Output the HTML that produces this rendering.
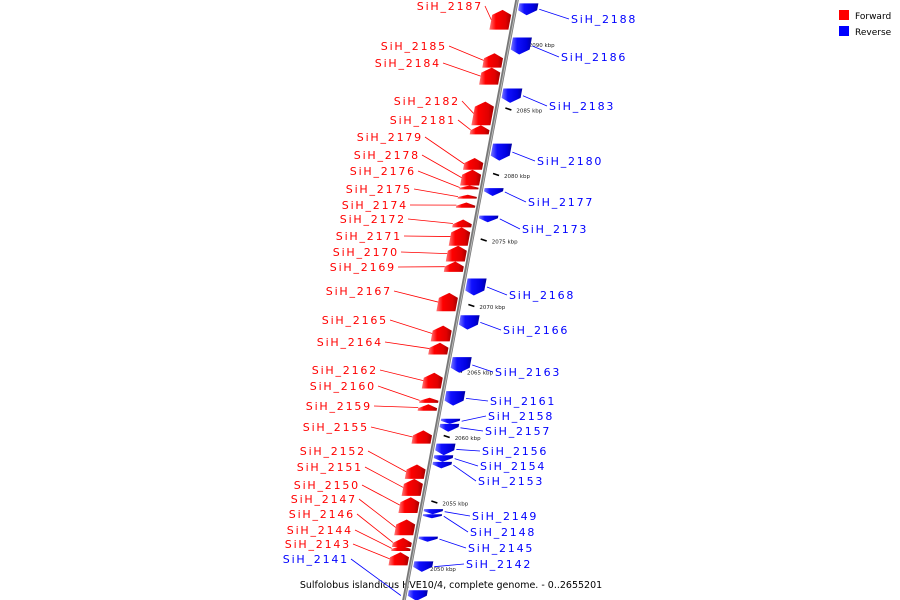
<!DOCTYPE html>
<html><head><meta charset="utf-8"><style>
html,body{margin:0;padding:0;background:#fff;width:900px;height:600px;overflow:hidden}
svg text{font-family:"DejaVu Sans","Liberation Sans",sans-serif}
</style></head><body>
<svg id="chart" width="900" height="600" viewBox="0 0 900 600" xmlns="http://www.w3.org/2000/svg">
<defs>
<linearGradient id="gr" x1="0" x2="1"><stop offset="0" stop-color="#ff7a7a"/><stop offset="0.3" stop-color="#ff0000"/><stop offset="0.75" stop-color="#e00000"/><stop offset="1" stop-color="#a00000"/></linearGradient>
<linearGradient id="gb" x1="0" x2="1"><stop offset="0" stop-color="#7a7aff"/><stop offset="0.3" stop-color="#1010ff"/><stop offset="0.75" stop-color="#0000e0"/><stop offset="1" stop-color="#0000a0"/></linearGradient>
</defs>
<g id="legend">
<rect x="839" y="10" width="10" height="10" fill="#f00"/>
<text x="855" y="19" font-size="9">Forward</text>
<rect x="839" y="26" width="10" height="10" fill="#00f"/>
<text x="855" y="35" font-size="9">Reverse</text>
</g>
<text x="451" y="588" font-size="9.5" text-anchor="middle">Sulfolobus islandicus HVE10/4, complete genome. - 0..2655201</text>
</svg>
<script>
const geneNames = ["SiH_2187","SiH_2185","SiH_2184","SiH_2182","SiH_2181","SiH_2179","SiH_2178","SiH_2176","SiH_2175","SiH_2174","SiH_2172","SiH_2171","SiH_2170","SiH_2169","SiH_2167","SiH_2165","SiH_2164","SiH_2162","SiH_2160","SiH_2159","SiH_2155","SiH_2152","SiH_2151","SiH_2150","SiH_2147","SiH_2146","SiH_2144","SiH_2143",
"SiH_2188","SiH_2186","SiH_2183","SiH_2180","SiH_2177","SiH_2173","SiH_2168","SiH_2166","SiH_2163","SiH_2161","SiH_2158","SiH_2157","SiH_2156","SiH_2154","SiH_2153","SiH_2149","SiH_2148","SiH_2145","SiH_2142","SiH_2141"];
const geneStrand = [1,1,1,1,1,1,1,1,1,1,1,1,1,1,1,1,1,1,1,1,1,1,1,1,1,1,1,1,
-1,-1,-1,-1,-1,-1,-1,-1,-1,-1,-1,-1,-1,-1,-1,-1,-1,-1,-1,-1];
const geneStartKbp = [2092.6,2089.3,2088.2,2085.6,2083.8,2081.3,2080.4,2079.2,2078.5,2077.9,2076.6,2076.0,2074.6,2073.4,2071.0,2068.5,2067.2,2064.9,2063.0,2062.5,2060.5,2057.9,2056.8,2055.4,2053.7,2052.3,2051.7,2051.2,
2093.1,2090.5,2086.6,2082.4,2079.0,2076.9,2072.1,2069.3,2066.1,2063.5,2061.4,2061.0,2059.5,2058.6,2058.1,2054.5,2054.1,2052.4,2050.5,2048.3];
const geneEndKbp = [2091.1,2088.2,2086.9,2083.8,2083.1,2080.4,2079.2,2078.9,2078.2,2077.5,2076.0,2074.6,2073.4,2072.6,2069.6,2067.3,2066.3,2063.7,2062.6,2062.0,2059.5,2056.8,2055.5,2054.2,2052.5,2051.6,2051.3,2050.2,
2092.2,2089.2,2085.5,2081.1,2078.4,2076.4,2070.8,2068.2,2064.9,2062.4,2061.0,2060.4,2058.6,2058.1,2057.6,2054.1,2053.8,2052.0,2049.7,2047.5];
const labelRow = [6,46,63,101,120,137,155,171,189,205,219,236,252,267,291,320,342,370,386,406,427,451,467,485,499,514,530,544,
19,57,106,161,202,229,295,330,372,401,416,431,451,466,481,516,532,548,564,559];
const labelEdge = [483,447,441,460,456,423,420,416,412,408,406,402,399,396,392,388,383,378,376,372,369,366,363,360,357,355,353,351,
571,561,549,537,528,522,509,503,495,490,488,485,482,480,478,472,470,468,466,349];
const tickKbp = [2090,2085,2080,2075,2070,2065,2060,2055,2050];

const svg = document.getElementById('chart');
const NS = 'http://www.w3.org/2000/svg';
function yScale(k){ return 44 + (2090 - k) * 13.1; }
function axisX(y){ return 517 - 113 * y / 600; }
function mk(tag, attrs){ const e = document.createElementNS(NS, tag); for (const k in attrs) e.setAttribute(k, attrs[k]); return e; }

const axis = mk('line', {x1: axisX(-5), y1: -5, x2: axisX(605), y2: 605, stroke: '#777', 'stroke-width': 3.5});


svg.appendChild(axis);
const axis2 = mk('line', {x1: axisX(-5)+0.5, y1: -5, x2: axisX(605)+0.5, y2: 605, stroke: '#bbb', 'stroke-width': 1});


svg.appendChild(axis2);

tickKbp.forEach(function(k){
  const y = yScale(k), x = axisX(y);
  const t = mk('line', {x1: x+9, y1: y-1.5, x2: x+15, y2: y+0.5, stroke: '#000', 'stroke-width': 1.6});
  
  
  svg.appendChild(t);
  const l = mk('text', {x: x+20, y: y+3, 'font-size': 5.5, fill: '#222'});
  l.textContent = k + ' kbp';
  
  
  svg.appendChild(l);
});

for (let i = 0; i < geneNames.length; i++) {
  const fwd = geneStrand[i] > 0;
  const y0 = yScale(geneStartKbp[i]), y1 = yScale(geneEndKbp[i]);
  const h = y1 - y0;
  const a = fwd ? -22 : 3, b = fwd ? -3 : 22;
  const p = function(off, y){ return (axisX(y) + off).toFixed(1) + ',' + y.toFixed(1); };
  let pts;
  const tipH = Math.min(5, h * 0.6);
  if (fwd) {
    pts = [p((a+b)/2, y0), p(b, y0+tipH), p(b, y1), p(a, y1), p(a, y0+tipH)];
  } else {
    pts = [p(a, y0), p(b, y0), p(b, y1-tipH), p((a+b)/2, y1), p(a, y1-tipH)];
  }
  const g = mk('polygon', {points: pts.join(' '), fill: fwd ? 'url(#gr)' : 'url(#gb)'});
  
  
  svg.appendChild(g);
  const ly = labelRow[i];
  const leftLabel = fwd || geneNames[i] === 'SiH_2141';
  const lx = labelEdge[i];
  const ym = (y0 + y1) / 2;
  const bx = leftLabel ? axisX(ym) + (fwd ? a : -4) : axisX(ym) + b + 2;
  const ln = mk('line', {x1: leftLabel ? lx + 2 : lx - 2, y1: ly, x2: bx, y2: ym, stroke: fwd ? '#f00' : '#00f', 'stroke-width': 0.8});
  
  
  svg.appendChild(ln);
  const t = mk('text', {x: lx, y: ly + 4, 'font-size': 11, 'letter-spacing': 1.8, fill: fwd ? '#f00' : '#00f', 'text-anchor': leftLabel ? 'end' : 'start'});
  t.textContent = geneNames[i];
  
  
  svg.appendChild(t);
}
</script>
</body></html>
